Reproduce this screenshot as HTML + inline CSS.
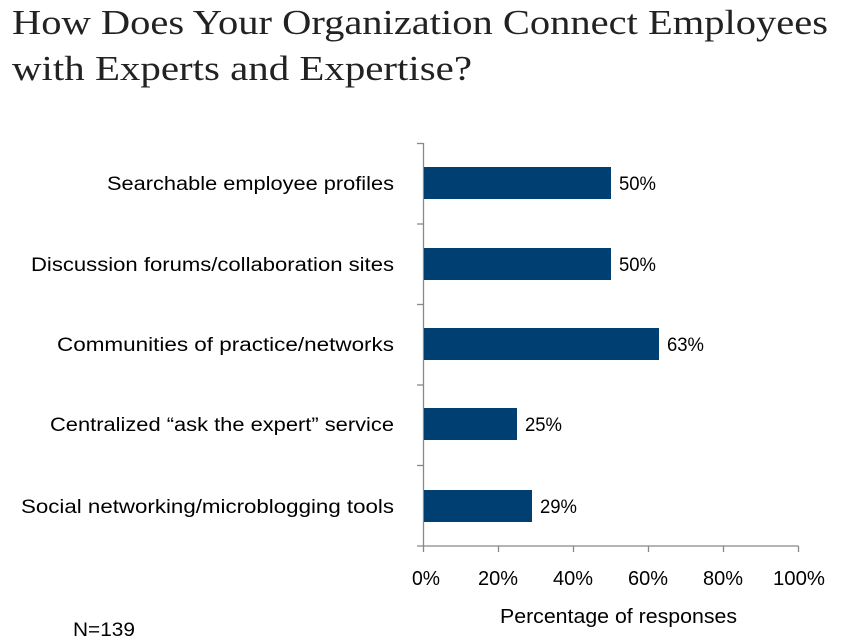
<!DOCTYPE html>
<html><head><meta charset="utf-8"><style>
body{margin:0;background:#fff;}
svg{display:block;}
</style></head><body>
<svg width="841" height="643" xmlns="http://www.w3.org/2000/svg">
<text x="12" y="34" font-family="Liberation Serif, serif" font-size="35" fill="#222" textLength="816" lengthAdjust="spacingAndGlyphs">How Does Your Organization Connect Employees</text>
<text x="12" y="80" font-family="Liberation Serif, serif" font-size="35" fill="#222" textLength="460" lengthAdjust="spacingAndGlyphs">with Experts and Expertise?</text>
<g stroke="#888" stroke-width="1.3" fill="none">
<line x1="423.5" y1="143" x2="423.5" y2="546"/>
<line x1="417" y1="143.5" x2="423.5" y2="143.5"/>
<line x1="417" y1="224" x2="423.5" y2="224"/>
<line x1="417" y1="304.5" x2="423.5" y2="304.5"/>
<line x1="417" y1="385" x2="423.5" y2="385"/>
<line x1="417" y1="465.5" x2="423.5" y2="465.5"/>
<line x1="417" y1="546" x2="798.5" y2="546"/>
<line x1="423.5" y1="546" x2="423.5" y2="552"/>
<line x1="498.5" y1="546" x2="498.5" y2="552"/>
<line x1="573.5" y1="546" x2="573.5" y2="552"/>
<line x1="648.5" y1="546" x2="648.5" y2="552"/>
<line x1="723.5" y1="546" x2="723.5" y2="552"/>
<line x1="798.5" y1="546" x2="798.5" y2="552"/>
</g>
<g fill="#003f72">
<rect x="424" y="167" width="187" height="32"/>
<rect x="424" y="248" width="187" height="32"/>
<rect x="424" y="328" width="235" height="32"/>
<rect x="424" y="408" width="93" height="32"/>
<rect x="424" y="490" width="108" height="32"/>
</g>
<g font-family="Liberation Sans, sans-serif" font-size="19" fill="#000" lengthAdjust="spacingAndGlyphs">
<text x="107" y="190" textLength="287" lengthAdjust="spacingAndGlyphs">Searchable employee profiles</text>
<text x="31" y="271" textLength="363" lengthAdjust="spacingAndGlyphs">Discussion forums/collaboration sites</text>
<text x="57" y="351" textLength="337" lengthAdjust="spacingAndGlyphs">Communities of practice/networks</text>
<text x="50" y="431" textLength="344" lengthAdjust="spacingAndGlyphs">Centralized “ask the expert” service</text>
<text x="21" y="513" textLength="373" lengthAdjust="spacingAndGlyphs">Social networking/microblogging tools</text>
<text x="619" y="190" textLength="37" lengthAdjust="spacingAndGlyphs">50%</text>
<text x="619" y="271" textLength="37" lengthAdjust="spacingAndGlyphs">50%</text>
<text x="667" y="351" textLength="37" lengthAdjust="spacingAndGlyphs">63%</text>
<text x="525" y="431" textLength="37" lengthAdjust="spacingAndGlyphs">25%</text>
<text x="540" y="513" textLength="37" lengthAdjust="spacingAndGlyphs">29%</text>
<g font-size="20">
<text x="412" y="585" textLength="28" lengthAdjust="spacingAndGlyphs">0%</text>
<text x="478" y="585" textLength="40" lengthAdjust="spacingAndGlyphs">20%</text>
<text x="553" y="585" textLength="40" lengthAdjust="spacingAndGlyphs">40%</text>
<text x="628" y="585" textLength="40" lengthAdjust="spacingAndGlyphs">60%</text>
<text x="703" y="585" textLength="40" lengthAdjust="spacingAndGlyphs">80%</text>
<text x="773" y="585" textLength="52" lengthAdjust="spacingAndGlyphs">100%</text>
<text x="500" y="623" textLength="237" lengthAdjust="spacingAndGlyphs">Percentage of responses</text>
</g>
<text x="73" y="636" textLength="62" lengthAdjust="spacingAndGlyphs">N=139</text>
</g>
</svg>
</body></html>
